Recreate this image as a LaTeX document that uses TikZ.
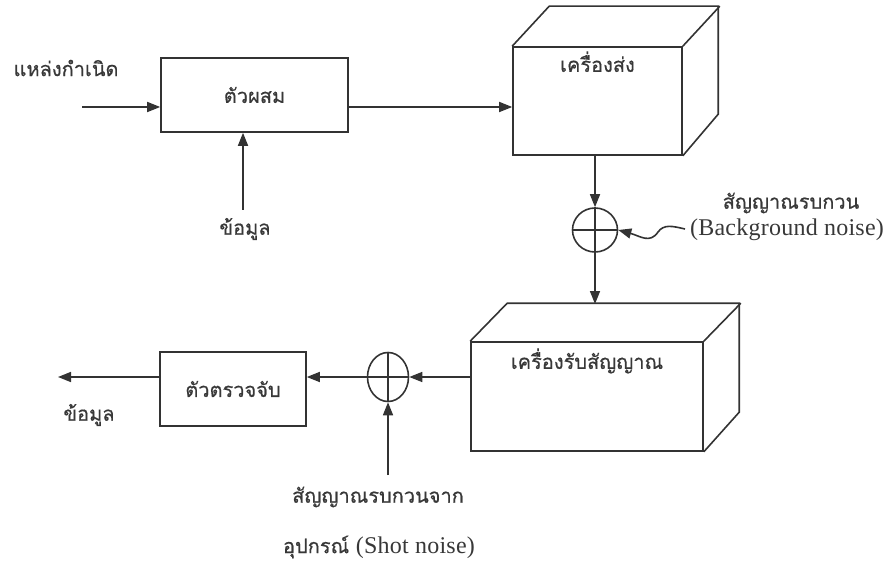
\documentclass[tikz,border=0pt]{standalone}
\usepackage{fontspec}
\setmainfont{Liberation Serif}
\newfontfamily\thaifont[Script=Thai, FakeBold=0.6]{Loma}
\usetikzlibrary{positioning, arrows.meta, shapes.geometric}

\newcommand{\engfont}{\rmfamily\addfontfeatures{LetterSpace=1}\fontsize{24}{28}\selectfont}

\begin{document}
\begin{tikzpicture}[x=1pt, y=-1pt, line width=1.6pt, color=black!80,
    arr/.style={-{Triangle[length=13pt, width=10pt]}},
    thai/.style={font=\thaifont\fontsize{20}{24}\selectfont, text=black!78},
    eng/.style={font=\engfont, text=black!78},
    blockbox/.style={draw, rectangle, inner sep=0pt, thai},
    adder/.style={draw, ellipse, inner sep=0pt}]
    \useasboundingbox (0,0) rectangle (886,564);

    % mixer with its two inputs
    \node[blockbox, minimum width=187pt, minimum height=74pt] (mixer) at (254.5,95) {ตัวผสม};
    \coordinate (srcin) at (82,107);
    \node[thai] (srclabel) at (66,68) {แหล่งกำเนิด};
    \draw[arr] (srcin) -- (srcin -| mixer.west);
    \coordinate (datain) at (243,210);
    \node[thai] (datalabel) at (245,229) {ข้อมูล};
    \draw[arr] (datain) -- (datain |- mixer.south);

    % transmitter
    \node[blockbox, minimum width=169pt, minimum height=108pt] (tx) at (597.5,101) {};
    \draw (tx.north west) -- ++(37,-40) -- ++(169,0) -- ++(0,108) -- (tx.south east);
    \draw (tx.north east) -- ++(37,-40);
    \node[thai, below=1pt of tx.north] (txlabel) {เครื่องส่ง};
    \draw[arr] (mixer.east |- srcin) -- (tx.west |- srcin);

    % background noise
    \node[adder, minimum width=45pt, minimum height=44pt] (add1) at (595,230) {};
    \draw (add1.north) -- (add1.south) (add1.west) -- (add1.east);
    \draw[arr] (add1 |- tx.south) -- (add1.north);
    \node[thai] (bglabel1) at (791,203) {สัญญาณรบกวน};
    \node[eng] (bglabel2) at (787,230) {(Background noise)};
    \coordinate (bgstart) at (685,229);
    \draw[arr] (bgstart) .. controls (672,226) and (664,224) .. (658,232)
        .. controls (650,244) and (640,236) .. (add1.east);

    % receiver
    \node[blockbox, minimum width=232pt, minimum height=109pt] (rx) at (587,396.5) {};
    \draw (rx.north west) -- ++(37,-38) -- ++(232,0) -- ++(0,109) -- (rx.south east);
    \draw (rx.north east) -- ++(37,-38);
    \node[thai, below=3pt of rx.north] (rxlabel) {เครื่องรับสัญญาณ};
    \coordinate (rxtop) at (595,304);
    \draw[arr] (add1.south) -- (rxtop);

    % shot noise and detector
    \node[adder, minimum width=41pt, minimum height=49pt] (add2) at (388,377) {};
    \draw (add2.north) -- (add2.south) (add2.west) -- (add2.east);
    \draw[arr] (rx.west |- add2) -- (add2.east);
    \coordinate (shotin) at (388,475);
    \draw[arr] (shotin) -- (add2.south);
    \node[thai] (shotlabel1) at (378,497) {สัญญาณรบกวนจาก};
    \node[thai] (shotlabel2) at (379,547) {อุปกรณ์ {\engfont (Shot noise)}};

    \node[blockbox, minimum width=146pt, minimum height=74pt] (det) at (233,389) {ตัวตรวจจับ};
    \draw[arr] (add2.west) -- (det.east |- add2);
    \coordinate (dataout) at (58,377);
    \draw[arr] (det.west |- add2) -- (dataout);
    \node[thai] (outlabel) at (89,415) {ข้อมูล};
\end{tikzpicture}
\end{document}
